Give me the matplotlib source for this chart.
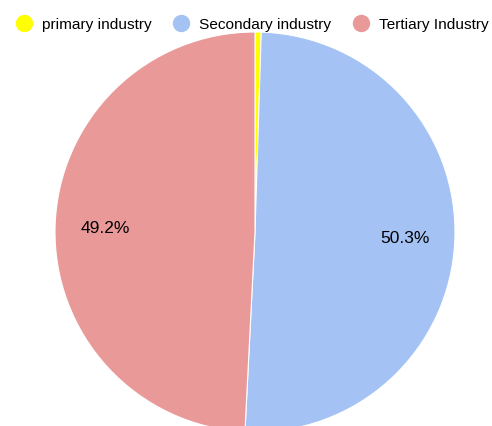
import matplotlib.pyplot as plt
from matplotlib.lines import Line2D

labels = ['primary industry', 'Secondary industry', 'Tertiary Industry']
shares = [0.5, 50.3, 49.2]
colors = ['#ffff00', '#a4c2f4', '#ea9999']

plt.rcParams['font.family'] = ['Liberation Sans', 'DejaVu Sans']

fig = plt.figure(figsize=(4.92, 4.26), dpi=100)
# pie centre at about (255, 232) px, radius 200 px
ax = fig.add_axes([55 / 492, (426 - 432) / 426, 400 / 492, 400 / 426])


def pct(p):
    return f'{p:.1f}%' if p >= 1 else ''


ax.pie(shares, colors=colors, startangle=90, counterclock=False,
       autopct=pct, pctdistance=0.75, radius=1,
       wedgeprops=dict(edgecolor='white', linewidth=0.8),
       textprops=dict(fontsize=12.5, color='black'))
ax.set_xlim(-1, 1)
ax.set_ylim(-1, 1)
ax.axis('off')

handles = [Line2D([], [], marker='o', linestyle='none', markersize=11.5,
                  markerfacecolor=c, markeredgecolor=c) for c in colors]
fig.legend(handles, labels, loc='upper left', bbox_to_anchor=(0.0175, 0.973),
           ncol=3, frameon=False, fontsize=11.1, handletextpad=0.57,
           columnspacing=1.3, handlelength=1.2, borderaxespad=0)

fig.savefig('out.png', dpi=100)
